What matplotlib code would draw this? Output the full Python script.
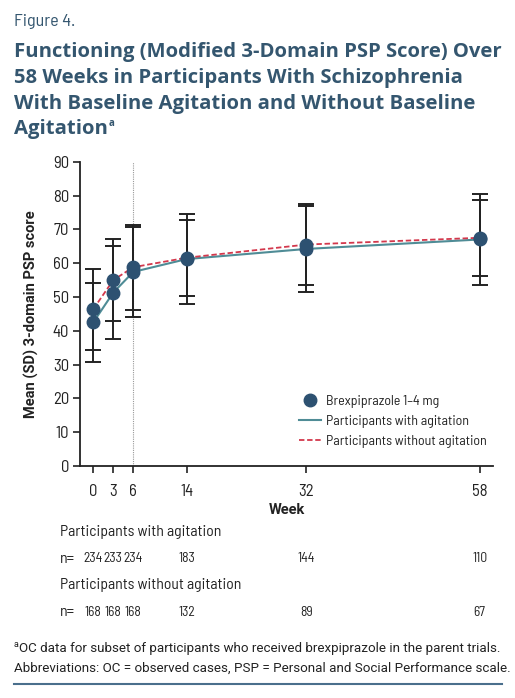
import matplotlib
matplotlib.use("Agg")
import matplotlib.pyplot as plt
from matplotlib.lines import Line2D

# ---- data ----
weeks = [0, 3, 6, 14, 32, 58]
agit_mean = [42.5, 51.3, 57.4, 61.2, 64.2, 67.0]
agit_sd = [11.7, 13.7, 13.2, 13.3, 12.7, 13.4]
noagit_mean = [46.4, 55.0, 58.8, 61.6, 65.5, 67.5]
noagit_sd = [12.0, 12.0, 12.6, 11.3, 11.9, 11.3]
n_agit = ["234", "233", "234", "183", "144", "110"]
n_noagit = ["168", "168", "168", "132", "89", "67"]
yticks = [0, 10, 20, 30, 40, 50, 60, 70, 80, 90]

NAVY = "#2d5171"
TEAL = "#4f8c96"
RED = "#d3384c"
TITLE = "#34566f"
INK = "#222222"
NARROW = ["Barlow Semi Condensed", "Roboto", "DejaVu Sans"]
plt.rcParams["font.family"] = ["Roboto", "DejaVu Sans"]

W, H = 515, 698
fig = plt.figure(figsize=(W / 100, H / 100), dpi=100)

def fx(x):
    return x / W

def fy(y):
    return 1 - y / H

# axes: left 80, right 493, top 161.7, bottom 466 (pixels)
ax = fig.add_axes([fx(80), fy(466), (493 - 80) / W, (466 - 161.7) / H])
ax.set_xlim(-2, 60)
ax.set_ylim(0, 90)
ax.set_yticks(yticks)
ax.set_xticks(weeks)
ax.tick_params(axis="both", labelsize=12, color=INK, length=5, width=1.2, labelcolor=INK)
ax.tick_params(axis="y", pad=3)
ax.tick_params(axis="x", pad=8)
for lab in ax.get_xticklabels() + ax.get_yticklabels():
    lab.set_family(NARROW)
for s in ["top", "right"]:
    ax.spines[s].set_visible(False)
for s in ["left", "bottom"]:
    ax.spines[s].set_linewidth(1.3)
    ax.spines[s].set_color(INK)

ax.axvline(6, color="#999999", lw=0.8, ls=(0, (1, 1)), zorder=1)

ax.plot(weeks, agit_mean, color=TEAL, lw=1.5, zorder=3)
ax.plot(weeks, noagit_mean, color=RED, lw=1.3, ls=(0, (3, 1.5)), zorder=3)
for m, s in [(agit_mean, agit_sd), (noagit_mean, noagit_sd)]:
    ax.errorbar(weeks, m, yerr=s, fmt="none", ecolor=INK, elinewidth=1.4,
                capsize=5.5, capthick=1.4, zorder=2)
    ax.plot(weeks, m, "o", color=NAVY, ms=9, zorder=4, mec=NAVY)

ax.set_ylabel("Mean (SD) 3-domain PSP score", fontsize=10.5, fontweight="bold", labelpad=10, color=INK)

handles = [
    Line2D([], [], marker="o", color=NAVY, ls="none", ms=9),
    Line2D([], [], color=TEAL, lw=1.5),
    Line2D([], [], color=RED, lw=1.3, ls=(0, (3, 1.5))),
]
labels = ["Brexpiprazole 1\u20134 mg", "Participants with agitation", "Participants without agitation"]
ax.legend(handles, labels, loc="upper left", bbox_to_anchor=((299 - 80) / 413, (466 - 395) / 304.3),
          frameon=False, handlelength=1.6, handletextpad=0.35,
          labelspacing=0.5, borderpad=0, borderaxespad=0, labelcolor=INK,
          prop={"family": NARROW, "size": 10})

fig.text(fx(286.5), fy(510), "Week", ha="center", va="center", fontsize=10.5, fontweight="bold", color=INK)

# n table
tkw = dict(va="center", fontsize=11.3, color=INK, family=NARROW)
nkw = dict(va="center", fontsize=9.8, color=INK, family=NARROW)
fig.text(fx(60), fy(532), "Participants with agitation", ha="left", **tkw)
fig.text(fx(60), fy(585), "Participants without agitation", ha="left", **tkw)
fig.text(fx(60), fy(559), "n=", ha="left", **tkw)
fig.text(fx(60), fy(612), "n=", ha="left", **tkw)
for wk, a, b in zip(weeks, n_agit, n_noagit):
    xpix = 80 + (wk + 2) / 62 * 413
    fig.text(fx(xpix), fy(559), a, ha="center", **nkw)
    fig.text(fx(xpix), fy(612), b, ha="center", **nkw)

# titles
fig.text(fx(14), fy(26), "Figure 4.", ha="left", va="baseline", fontsize=13,
         color=TITLE, family=NARROW)
title_lines = ["Functioning (Modified 3-Domain PSP Score) Over",
               "58 Weeks in Participants With Schizophrenia",
               "With Baseline Agitation and Without Baseline",
               "Agitation"]
base = [57, 83, 109, 134]
tobjs = []
for t, b in zip(title_lines, base):
    tobjs.append(fig.text(fx(14), fy(b), t, ha="left", va="baseline", fontsize=14.6,
                          fontweight="bold", color=TITLE, family=["Open Sans", "DejaVu Sans"]))

# footnote
fn1 = fig.text(fx(14), fy(647), "a", ha="left", va="baseline", fontsize=6.5, color=INK)
fig.canvas.draw()
r = fig.canvas.get_renderer()
bb = fn1.get_window_extent(r)
fig.text(bb.x1 / W, fy(652), "OC data for subset of participants who received brexpiprazole in the parent trials.",
         ha="left", va="baseline", fontsize=9.6, color=INK)
fig.text(fx(14), fy(672), "Abbreviations: OC = observed cases, PSP = Personal and Social Performance scale.",
         ha="left", va="baseline", fontsize=9.6, color=INK)

bb = tobjs[-1].get_window_extent(r)
fig.text(bb.x1 / W + 0.002, fy(126), "a", ha="left", va="baseline", fontsize=7,
         fontweight="bold", color=TITLE, family=["Open Sans", "DejaVu Sans"])

fig.add_artist(Line2D([fx(14), fx(502)], [fy(684), fy(684)], color="#4a6f8c", lw=1.5))

fig.savefig("out.png", dpi=100)
